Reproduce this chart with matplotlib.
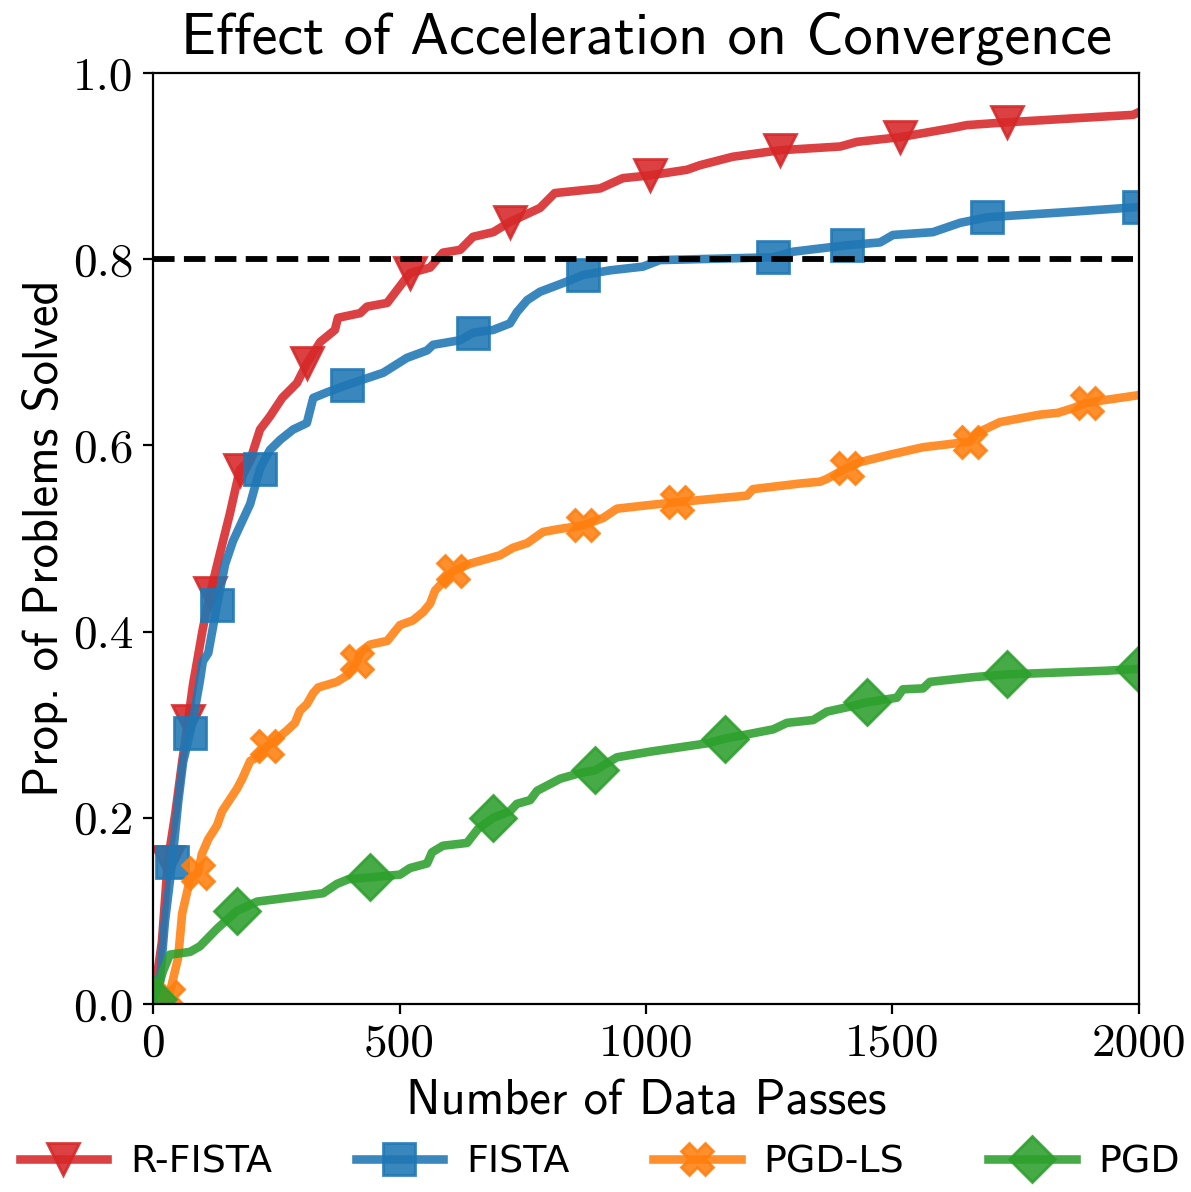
import numpy as np
import matplotlib
matplotlib.use('Agg')
import matplotlib.pyplot as plt

# performance profile data (data passes, fraction solved)
rfista_x = [0, 18, 30, 45, 59, 71, 81, 91, 101, 116, 132, 156, 176, 197, 217, 237, 262, 292, 312, 339, 369, 375,
            420, 434, 475, 521, 562, 588, 623, 649, 690, 724, 785, 815, 907, 953, 1008, 1083, 1110, 1176, 1272,
            1394, 1428, 1515, 1623, 1651, 1732, 1988, 2000]
rfista_y = [0.0, 0.067, 0.153, 0.204, 0.260, 0.304, 0.343, 0.373, 0.403, 0.441, 0.476, 0.527, 0.574, 0.584, 0.617,
            0.631, 0.651, 0.667, 0.688, 0.711, 0.724, 0.737, 0.742, 0.749, 0.753, 0.785, 0.791, 0.807, 0.810, 0.824,
            0.829, 0.840, 0.855, 0.871, 0.876, 0.887, 0.890, 0.896, 0.901, 0.910, 0.917, 0.921, 0.926, 0.931, 0.941,
            0.944, 0.947, 0.955, 0.958]

fista_x = [0, 4, 14, 24, 39, 51, 61, 75, 85, 95, 101, 112, 130, 146, 162, 197, 217, 237, 258, 284, 312, 325, 353,
           394, 467, 515, 556, 568, 623, 649, 690, 724, 738, 759, 785, 840, 872, 927, 994, 1028, 1258, 1298, 1408,
           1475, 1501, 1582, 1637, 1692, 1866, 2000]
fista_y = [0.0, 0.008, 0.024, 0.088, 0.153, 0.217, 0.260, 0.291, 0.317, 0.347, 0.368, 0.377, 0.429, 0.472, 0.497,
           0.537, 0.575, 0.595, 0.606, 0.617, 0.624, 0.651, 0.657, 0.665, 0.678, 0.694, 0.702, 0.708, 0.713, 0.721,
           0.724, 0.731, 0.743, 0.756, 0.765, 0.776, 0.783, 0.788, 0.792, 0.799, 0.802, 0.808, 0.815, 0.818, 0.826,
           0.829, 0.839, 0.845, 0.851, 0.856]

pgdls_x = [30, 34, 51, 59, 75, 91, 99, 112, 130, 140, 150, 170, 181, 197, 211, 231, 252, 272, 288, 298, 312, 325,
           335, 373, 394, 414, 420, 440, 475, 501, 527, 548, 562, 572, 588, 609, 643, 677, 704, 730, 759, 791, 822,
           872, 913, 941, 1008, 1063, 1205, 1217, 1312, 1353, 1367, 1408, 1434, 1495, 1562, 1657, 1671, 1698, 1718,
           1799, 1836, 1866, 1895, 1935, 2000]
pgdls_y = [0.008, 0.012, 0.050, 0.097, 0.134, 0.141, 0.161, 0.177, 0.192, 0.207, 0.215, 0.231, 0.242, 0.261, 0.265,
           0.277, 0.285, 0.294, 0.302, 0.315, 0.322, 0.334, 0.340, 0.346, 0.353, 0.368, 0.378, 0.386, 0.390, 0.407,
           0.412, 0.421, 0.430, 0.444, 0.453, 0.465, 0.473, 0.478, 0.482, 0.490, 0.495, 0.507, 0.510, 0.514, 0.522,
           0.532, 0.536, 0.539, 0.546, 0.553, 0.559, 0.561, 0.564, 0.576, 0.582, 0.590, 0.598, 0.604, 0.613, 0.620,
           0.625, 0.633, 0.635, 0.640, 0.646, 0.649, 0.654]

pgd_x = [0, 14, 20, 34, 75, 95, 130, 170, 211, 345, 373, 396, 440, 501, 521, 556, 566, 588, 637, 659, 690, 724, 738,
         765, 779, 826, 866, 897, 941, 1008, 1124, 1160, 1258, 1286, 1339, 1367, 1410, 1448, 1509, 1521, 1562, 1576,
         1663, 1732, 1935, 2000]
pgd_y = [0.005, 0.024, 0.035, 0.053, 0.056, 0.062, 0.081, 0.100, 0.110, 0.119, 0.129, 0.134, 0.136, 0.139, 0.146,
         0.151, 0.163, 0.170, 0.173, 0.188, 0.200, 0.207, 0.215, 0.219, 0.229, 0.242, 0.248, 0.251, 0.265, 0.271,
         0.280, 0.285, 0.295, 0.302, 0.305, 0.314, 0.319, 0.324, 0.329, 0.338, 0.339, 0.346, 0.351, 0.354, 0.358,
         0.360]

threshold = 0.8

series = [('R-FISTA', rfista_x, rfista_y, 'tab:red', 'v'),
          ('FISTA', fista_x, fista_y, 'tab:blue', 's'),
          ('PGD-LS', pgdls_x, pgdls_y, 'tab:orange', 'X'),
          ('PGD', pgd_x, pgd_y, 'tab:green', 'D')]

fig = plt.figure(figsize=(1191/200., 1192/200.), dpi=200)
ax = plt.gca()

for label, x, y, color, marker in series:
	plt.plot(x, y, ls='-', lw=3.1, marker=marker, markevery=0.1, ms=11.5, color=color, alpha=0.88, label=label)

plt.axhline(threshold, color='k', ls='--', lw=2.1)

plt.xlim([0, 2000])
plt.ylim([0, 1])
plt.xticks([0, 500, 1000, 1500, 2000], fontsize=17, family='cmr10')
plt.yticks([0, 0.2, 0.4, 0.6, 0.8, 1.0], fontsize=17, family='cmr10')
ax.set_yticklabels(['0.0', '0.2', '0.4', '0.6', '0.8', '1.0'])
plt.xlabel('Number of Data Passes', fontsize=17.5, family='cmss10', labelpad=5)
plt.ylabel('Prop. of Problems Solved', fontsize=17.5, family='cmss10', labelpad=2)
plt.title('Effect of Acceleration on Convergence', fontsize=21, family='cmss10', pad=7)

plt.subplots_adjust(left=0.1285, right=0.9563, bottom=0.1577, top=0.9388)
handles, labels = ax.get_legend_handles_labels()
fig.legend(handles, labels, loc='center', bbox_to_anchor=(0.5036, 0.0245), ncol=4, frameon=False, fontsize=13.7,
           handlelength=2.3, handletextpad=0.6, columnspacing=2.2)

plt.savefig('out.png', dpi=200)
plt.close('all')
